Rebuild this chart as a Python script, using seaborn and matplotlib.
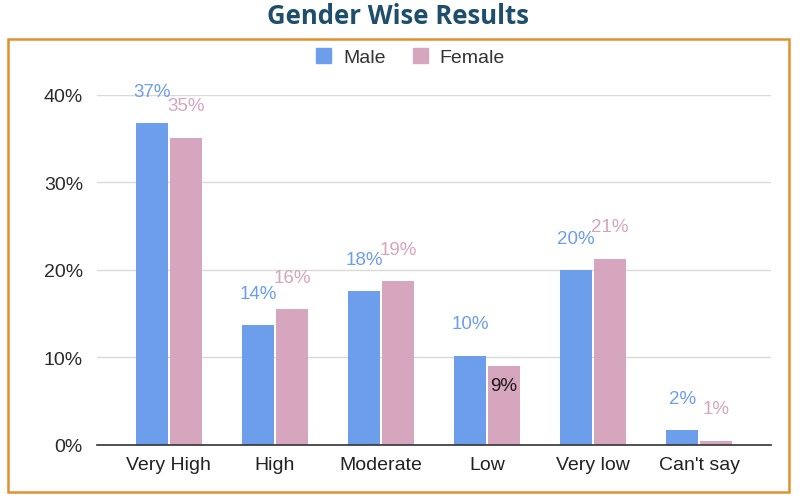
import matplotlib
matplotlib.use("Agg")
import matplotlib.pyplot as plt
import seaborn as sns
import pandas as pd
from matplotlib.patches import Rectangle

categories = ["Very High", "High", "Moderate", "Low", "Very low", "Can't say"]
male = [36.8, 13.7, 17.6, 10.2, 20.0, 1.7]
female = [35.1, 15.5, 18.7, 9.0, 21.3, 0.5]
male_labels = ["37%", "14%", "18%", "10%", "20%", "2%"]
female_labels = ["35%", "16%", "19%", "9%", "21%", "1%"]
series = ["Male", "Female"]
colors = ["#6d9eeb", "#d5a6bd"]
yticks = [0, 10, 20, 30, 40]
ytick_labels = ["0%", "10%", "20%", "30%", "40%"]

df = pd.DataFrame({
    "category": categories * 2,
    "value": male + female,
    "series": ["Male"] * len(categories) + ["Female"] * len(categories),
    "label": male_labels + female_labels,
})

sns.set_theme(style="white")
plt.rcParams["font.family"] = ["Liberation Sans", "DejaVu Sans"]

fig = plt.figure(figsize=(8, 5.02), dpi=100)
ax = fig.add_axes([0.121, 0.1116, 0.843, 0.6972])

sns.barplot(data=df, x="category", y="value", hue="series", order=categories,
            hue_order=series, palette=colors, width=0.64, gap=0.05,
            saturation=1, ax=ax, legend=False, edgecolor="none")

ax.set_ylim(0, 40)
ax.set_xlim(-0.68, 5.68)
ax.set_yticks(yticks)
ax.set_yticklabels(ytick_labels, fontsize=14, color="#2a2a2a")
ax.tick_params(axis="x", labelsize=14, labelcolor="#222222", length=0, pad=8)
ax.tick_params(axis="y", length=0, pad=10)
ax.set_xlabel("")
ax.set_ylabel("")
ax.yaxis.grid(True, color="#d9d9d9", linewidth=1)
ax.set_axisbelow(True)
for s in ["top", "right", "left"]:
    ax.spines[s].set_visible(False)
ax.spines["bottom"].set_color("#333333")
ax.spines["bottom"].set_linewidth(1.2)

for container, labels, col in zip(ax.containers, [male_labels, female_labels], colors):
    for bar, lab in zip(container, labels):
        x = bar.get_x() + bar.get_width() / 2
        h = bar.get_height()
        if lab == "9%":
            ax.annotate(lab, (x, h), xytext=(0, -14), textcoords="offset points",
                        ha="center", va="center", fontsize=13.5, color="#1a1a1a",
                        fontweight="medium")
        else:
            ax.annotate(lab, (x, h), xytext=(0, 23), textcoords="offset points",
                        ha="center", va="center", fontsize=13.5, color=col,
                        annotation_clip=False)

handles = [Rectangle((0, 0), 1, 1, color=c) for c in colors]
fig.legend(handles, series, loc="center", bbox_to_anchor=(0.513, 0.884),
           ncol=2, frameon=False, fontsize=14, handlelength=0.8, handleheight=0.8,
           columnspacing=1.4, handletextpad=0.6, labelcolor="#333333")

fig.patches.append(Rectangle((8 / 800, 9 / 502), 781 / 800, 453 / 502,
                             transform=fig.transFigure, fill=False,
                             edgecolor="#e0912f", linewidth=1.8))

fig.text(0.4975, 0.967, "Gender Wise Results", ha="center", va="center",
         fontsize=18.5, fontweight="bold", color="#1f4e6c", family=["Open Sans", "DejaVu Sans"])

fig.savefig("out.png", dpi=100)
